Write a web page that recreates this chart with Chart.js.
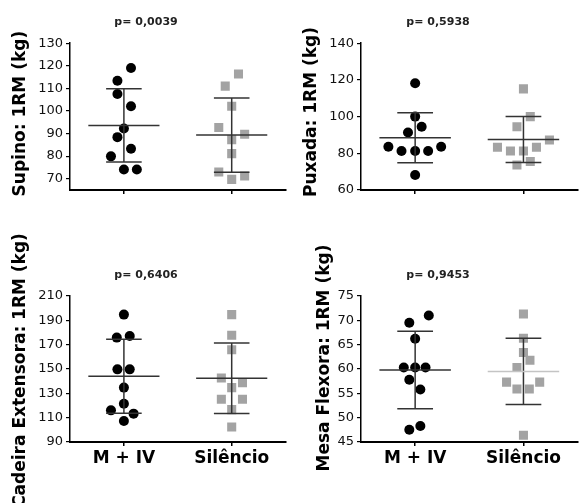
<!DOCTYPE html>
<html>
<head>
<meta charset="utf-8">
<title>1RM por grupo</title>
<script src="https://cdn.jsdelivr.net/npm/chart.js@4.4.1/dist/chart.umd.min.js"></script>
<style>
  body { margin: 0; background: #fff; }
  #wrap { position: relative; width: 584px; height: 503px; overflow: hidden; }
  canvas { position: absolute; }
</style>
</head>
<body>
<div id="wrap">
  <canvas id="supino" width="292" height="230" style="left:0;top:0"></canvas>
  <canvas id="puxada" width="292" height="230" style="left:292px;top:0"></canvas>
  <canvas id="cadeira" width="292" height="273" style="left:0;top:230px"></canvas>
  <canvas id="mesa" width="292" height="273" style="left:292px;top:230px"></canvas>
</div>
<script>
// groups on the x axis
const groups = ['M + IV', 'Silêncio'];

// Supino
const supinoMIV = [119, 113.4, 107.5, 102.1, 92.2, 88.4, 83.3, 79.9, 74.1, 74.1];
const supinoMIVJitter = [0.066, -0.06, -0.06, 0.066, 0, -0.06, 0.066, -0.12, 0, 0.12];
const supinoSil = [116.4, 111, 102.1, 92.7, 89.7, 87.3, 81.1, 73.0, 71.2, 69.7];
const supinoSilJitter = [0.063, -0.06, 0, -0.12, 0.12, 0, 0, -0.12, 0.12, 0];
const supinoMean = [93.6, 89.3];
const supinoSD = [16.2, 16.45];
const supinoTicks = [70, 80, 90, 100, 110, 120, 130];

// Puxada
const puxadaMIV = [118.2, 100, 94.5, 91.3, 83.6, 81.3, 81.3, 81.3, 83.6, 68.2];
const puxadaMIVJitter = [0, 0, 0.06, -0.066, -0.247, -0.126, 0, 0.12, 0.24, 0];
const puxadaSil = [115.1, 100, 94.5, 87.3, 83.3, 83.3, 81.3, 81.3, 75.5, 73.6];
const puxadaSilJitter = [0, 0.063, -0.06, 0.24, -0.24, 0.12, -0.12, 0, 0.063, -0.06];
const puxadaMean = [88.5, 87.5];
const puxadaSD = [13.65, 12.55];
const puxadaTicks = [60, 80, 100, 120, 140];

// Cadeira Extensora
const cadeiraMIV = [194.7, 175.8, 177.1, 149.7, 149.7, 134.7, 121.5, 116, 113.3, 107.3];
const cadeiraMIVJitter = [0, -0.066, 0.054, -0.06, 0.054, 0, 0, -0.12, 0.09, 0];
const cadeiraSil = [194.7, 177.7, 165.9, 142.6, 138.8, 134.7, 125.1, 125.1, 116.6, 102.3];
const cadeiraSilJitter = [0, 0, 0, -0.096, 0.1, 0, -0.096, 0.1, 0, 0];
const cadeiraMean = [144, 142.4];
const cadeiraSD = [30.35, 29.05];
const cadeiraTicks = [90, 110, 130, 150, 170, 190, 210];

// Mesa Flexora
const mesaMIV = [71.0, 69.5, 66.2, 60.3, 60.3, 60.3, 57.8, 55.8, 48.3, 47.5];
const mesaMIVJitter = [0.126, -0.054, 0, -0.105, 0, 0.096, -0.054, 0.048, 0.048, -0.054];
const mesaSil = [71.3, 66.3, 63.4, 61.8, 60.3, 57.3, 57.3, 55.9, 55.9, 46.4];
const mesaSilJitter = [0, 0, 0, 0.06, -0.06, -0.156, 0.15, -0.06, 0.054, 0];
const mesaMean = [59.8, 59.5];
const mesaSD = [7.95, 6.8];
const mesaTicks = [45, 50, 55, 60, 65, 70, 75];

const pValues = ['p= 0,0039', 'p= 0,5938', 'p= 0,6406', 'p= 0,9453'];

Chart.defaults.font.family = '"DejaVu Sans", sans-serif';

const LINE = '#333333';

// rotated y title, drawn by hand so it is not squeezed to the axis height
const yTitlePlugin = {
  id: 'yTitle',
  afterDraw(chart, args, opts) {
    const { ctx, chartArea } = chart;
    ctx.save();
    ctx.translate(opts.x, (chartArea.top + chartArea.bottom) / 2 + opts.dy);
    ctx.rotate(-Math.PI / 2);
    ctx.font = 'bold 17px "DejaVu Sans"';
    ctx.fillStyle = '#000';
    ctx.textAlign = 'center';
    ctx.textBaseline = 'middle';
    ctx.fillText(opts.text, 0, 0);
    ctx.restore();
  }
};

function points(values, jitter, center) {
  return values.map((v, i) => ({ x: center + jitter[i], y: v }));
}

function seg(a, b, color) {
  return {
    data: [a, b],
    showLine: true,
    pointRadius: 0,
    borderColor: color,
    borderWidth: 1.5,
    fill: false
  };
}

function meanSD(center, mean, sd, meanColor) {
  return [
    seg({ x: center - 0.33, y: mean }, { x: center + 0.33, y: mean }, meanColor),
    seg({ x: center, y: mean - sd }, { x: center, y: mean + sd }, LINE),
    seg({ x: center - 0.165, y: mean + sd }, { x: center + 0.165, y: mean + sd }, LINE),
    seg({ x: center - 0.165, y: mean - sd }, { x: center + 0.165, y: mean - sd }, LINE)
  ];
}

function makePanel(id, p) {
  const bottom = p.showLabels;
  const datasets = [
    ...meanSD(1, p.mean[0], p.sd[0], LINE),
    ...meanSD(2, p.mean[1], p.sd[1], p.silMeanColor || LINE),
    {
      data: points(p.miv, p.mivJitter, 1),
      pointStyle: 'circle',
      pointRadius: 5,
      backgroundColor: '#000',
      borderWidth: 0
    },
    {
      data: points(p.sil, p.silJitter, 2),
      pointStyle: 'rect',
      pointRadius: 6.4,
      backgroundColor: '#a3a3a3',
      borderWidth: 0
    }
  ];

  new Chart(document.getElementById(id), {
    type: 'scatter',
    data: { datasets },
    plugins: [yTitlePlugin],
    options: {
      responsive: false,
      animation: false,
      layout: { padding: 0 },
      plugins: {
        legend: { display: false },
        tooltip: { enabled: false },
        title: {
          display: true,
          text: p.pText,
          color: '#222',
          font: { size: 11, weight: 'bold' },
          padding: { top: bottom ? 38.8 : 16, bottom: 14 }
        },
        yTitle: { text: p.yTitle, x: p.titleX, dy: p.titleDy }
      },
      scales: {
        x: {
          type: 'linear',
          min: 0.5,
          max: 2.5,
          afterBuildTicks: axis => { axis.ticks = [{ value: 1 }, { value: 2 }]; },
          afterFit: axis => { axis.height = bottom ? 61 : 40; },
          ticks: {
            padding: 2,
            color: '#000',
            font: { size: 17, weight: 'bold' },
            callback: v => bottom ? groups[v - 1] : ''
          },
          grid: { drawOnChartArea: false, drawTicks: true, tickLength: 4, color: '#000', lineWidth: 1.5 },
          border: { display: true, color: '#000', width: 2 }
        },
        y: {
          min: p.min,
          max: p.max,
          afterBuildTicks: axis => { axis.ticks = p.ticks.map(v => ({ value: v })); },
          afterFit: axis => { axis.width = p.axisWidth; },
          ticks: { padding: 3, color: '#111', font: { size: 13 } },
          grid: { drawOnChartArea: false, drawTicks: true, tickLength: 4, color: '#000', lineWidth: 1.2 },
          border: { display: true, color: '#000', width: 1.5 }
        }
      }
    }
  });
}

makePanel('supino', {
  miv: supinoMIV, mivJitter: supinoMIVJitter, sil: supinoSil, silJitter: supinoSilJitter,
  mean: supinoMean, sd: supinoSD, ticks: supinoTicks, min: 65, max: 130,
  pText: pValues[0], yTitle: 'Supino: 1RM (kg)', titleX: 21, titleDy: -3,
  axisWidth: 70, showLabels: false
});

makePanel('puxada', {
  miv: puxadaMIV, mivJitter: puxadaMIVJitter, sil: puxadaSil, silJitter: puxadaSilJitter,
  mean: puxadaMean, sd: puxadaSD, ticks: puxadaTicks, min: 60, max: 140,
  pText: pValues[1], yTitle: 'Puxada: 1RM (kg)', titleX: 20, titleDy: -4.6,
  axisWidth: 69, showLabels: false
});

makePanel('cadeira', {
  miv: cadeiraMIV, mivJitter: cadeiraMIVJitter, sil: cadeiraSil, silJitter: cadeiraSilJitter,
  mean: cadeiraMean, sd: cadeiraSD, ticks: cadeiraTicks, min: 90, max: 210,
  pText: pValues[2], yTitle: 'Cadeira Extensora: 1RM (kg)', titleX: 21, titleDy: 1.5,
  axisWidth: 70, showLabels: true
});

makePanel('mesa', {
  miv: mesaMIV, mivJitter: mesaMIVJitter, sil: mesaSil, silJitter: mesaSilJitter,
  mean: mesaMean, sd: mesaSD, ticks: mesaTicks, min: 45, max: 75,
  pText: pValues[3], yTitle: 'Mesa Flexora: 1RM (kg)', titleX: 33, titleDy: -11,
  axisWidth: 69, showLabels: true, silMeanColor: '#c4c4c4'
});
</script>
</body>
</html>
